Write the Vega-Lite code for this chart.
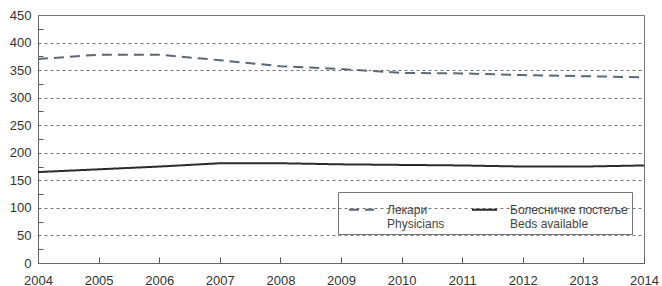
{
  "$schema": "https://vega.github.io/schema/vega-lite/v6.json",
  "autosize": "none",
  "padding": {"left": 38, "top": 15, "right": 18, "bottom": 23},
  "width": 606,
  "height": 248,
  "background": "white",
  "config": {
    "view": {"stroke": "#777", "strokeWidth": 1},
    "font": "Liberation Sans",
    "axis": {"labelFont": "Liberation Sans", "labelFontSize": 13, "labelColor": "#333", "domainColor": "#666", "tickColor": "#555"}
  },
  "data": {
    "values": [
      {"year": 2004, "series": "Physicians", "value": 370},
      {"year": 2005, "series": "Physicians", "value": 378},
      {"year": 2006, "series": "Physicians", "value": 378},
      {"year": 2007, "series": "Physicians", "value": 368},
      {"year": 2008, "series": "Physicians", "value": 357},
      {"year": 2009, "series": "Physicians", "value": 352},
      {"year": 2010, "series": "Physicians", "value": 345},
      {"year": 2011, "series": "Physicians", "value": 344},
      {"year": 2012, "series": "Physicians", "value": 341},
      {"year": 2013, "series": "Physicians", "value": 339},
      {"year": 2014, "series": "Physicians", "value": 337},
      {"year": 2004, "series": "Beds available", "value": 165},
      {"year": 2005, "series": "Beds available", "value": 170},
      {"year": 2006, "series": "Beds available", "value": 175},
      {"year": 2007, "series": "Beds available", "value": 181},
      {"year": 2008, "series": "Beds available", "value": 181},
      {"year": 2009, "series": "Beds available", "value": 179},
      {"year": 2010, "series": "Beds available", "value": 178},
      {"year": 2011, "series": "Beds available", "value": 177},
      {"year": 2012, "series": "Beds available", "value": 175},
      {"year": 2013, "series": "Beds available", "value": 175},
      {"year": 2014, "series": "Beds available", "value": 177}
    ]
  },
  "mark": {"type": "line", "strokeWidth": 2},
  "encoding": {
    "x": {
      "field": "year", "type": "quantitative",
      "scale": {"domain": [2004, 2014], "nice": false, "zero": false},
      "axis": {"title": null, "format": "d", "values": [2004,2005,2006,2007,2008,2009,2010,2011,2012,2013,2014], "grid": false, "tickSize": -6, "labelPadding": 17, "labelFlush": false}
    },
    "y": {
      "field": "value", "type": "quantitative",
      "scale": {"domain": [0, 450], "nice": false},
      "axis": {
        "title": null,
        "values": [0,25,50,75,100,125,150,175,200,225,250,275,300,325,350,375,400,425,450],
        "labelExpr": "datum.value % 50 === 0 ? datum.label : ''",
        "tickSize": -5,
        "labelPadding": 12,
        "tickOpacity": {"condition": {"test": "datum.value % 50 === 0", "value": 0}, "value": 1},
        "grid": true,
        "gridDash": [3, 3],
        "gridColor": "#777",
        "gridOpacity": {"condition": {"test": "datum.value % 50 === 0 && datum.value > 0 && datum.value < 450", "value": 1}, "value": 0}
      }
    },
    "color": {
      "field": "series", "type": "nominal",
      "scale": {"domain": ["Physicians", "Beds available"], "range": ["#5d6877", "#2b2b2b"]},
      "legend": {
        "title": null, "orient": "none", "legendX": 300, "legendY": 177,
        "direction": "horizontal", "columns": 2, "columnPadding": 20,
        "strokeColor": "#777", "padding": 4,
        "symbolType": "stroke", "symbolSize": 625, "symbolStrokeWidth": 2, "symbolOffset": 6,
        "labelFont": "Liberation Sans", "labelFontSize": 12, "labelColor": "#444",
        "labelLimit": 300, "labelOffset": 12,
        "labelExpr": "datum.label == 'Physicians' ? ['Лекари', 'Physicians'] : ['Болесничке постеље', 'Beds available']"
      }
    },
    "strokeDash": {
      "field": "series", "type": "nominal",
      "scale": {"domain": ["Physicians", "Beds available"], "range": [[10, 6], [1, 0]]},
      "legend": {
        "title": null, "orient": "none", "legendX": 300, "legendY": 177,
        "direction": "horizontal", "columns": 2, "columnPadding": 20,
        "strokeColor": "#777", "padding": 4,
        "symbolType": "stroke", "symbolSize": 625, "symbolStrokeWidth": 2, "symbolOffset": 6,
        "labelFont": "Liberation Sans", "labelFontSize": 12, "labelColor": "#444",
        "labelLimit": 300, "labelOffset": 12,
        "labelExpr": "datum.label == 'Physicians' ? ['Лекари', 'Physicians'] : ['Болесничке постеље', 'Beds available']"
      }
    }
  }
}
